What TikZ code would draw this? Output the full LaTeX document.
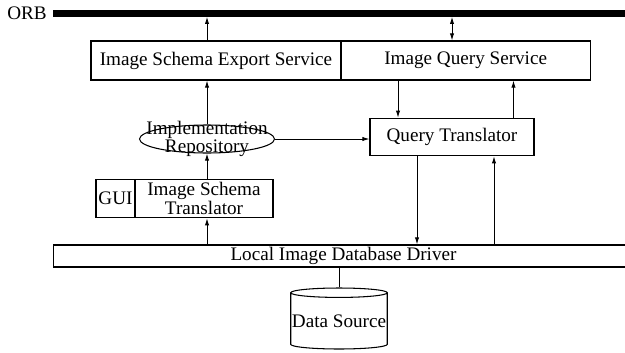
\documentclass[tikz,border=0pt]{standalone}
\usepackage{fontspec}
\setmainfont{Liberation Serif}
\usetikzlibrary{shapes.geometric,arrows.meta}

\begin{document}
\begin{tikzpicture}[x=0.02cm,y=-0.02cm,
		font=\fontsize{10.9}{12}\selectfont,
		box/.style={draw, line width=0.6pt, inner sep=0pt},
		arr/.style={-{Latex[length=4pt,width=2.4pt]}, line width=0.5pt},
		dblarr/.style={{Latex[length=4pt,width=2.4pt]}-{Latex[length=4pt,width=2.4pt]}, line width=0.5pt},
	]
	\useasboundingbox (0,0) rectangle (625,352);

	% bus
	\node[fill=black, inner sep=0pt, minimum width=11.54cm, minimum height=0.14cm] (orb) at (341.5,13) {};
	\node[anchor=east, inner sep=0pt] (orblabel) at (47,13) {ORB};

	% services
	\node[box, minimum width=5cm, minimum height=0.78cm] (export) at (216,60.5) {Image Schema Export Service};
	\node[box, minimum width=4.99cm, minimum height=0.78cm] (query) at (465.7,60.5) {Image Query Service};

	% middle row
	\node[box, ellipse, minimum width=2.7cm, minimum height=0.56cm,
		label={[align=center, inner sep=0pt, font=\fontsize{10.9}{6.6}\selectfont]center:Implementation\\Repository}] (repo) at (207,139) {};
	\node[box, minimum width=3.28cm, minimum height=0.75cm] (qt) at (452,137) {Query Translator};

	% translator with gui
	\node[box, minimum width=0.78cm, minimum height=0.77cm] (gui) at (115.5,198.5) {GUI};
	\node[box, minimum width=2.76cm, minimum height=0.77cm, align=center,
		font=\fontsize{10.9}{8.5}\selectfont] (ist) at (204,198.5) {Image Schema\\Translator};

	% driver and source
	\node[box, minimum width=11.62cm, minimum height=0.44cm] (lidd) at (343.5,256) {Local Image Database Driver};
	\node[box, cylinder, shape border rotate=90, aspect=0.1, minimum width=1.93cm, minimum height=1.22cm,
		anchor=shape center] (src) at (339,318.5) {Data Source};

	% helper points
	\coordinate (qin) at ([xshift=-1.08cm]qt.north);
	\coordinate (qout) at ([xshift=1.23cm]qt.north);
	\coordinate (ddown) at ([xshift=-0.7cm]qt.south);
	\coordinate (dup) at ([xshift=0.84cm]qt.south);

	% arrows
	\draw[arr] (repo.north |- export.north) -- (repo.north |- orb.south);
	\draw[dblarr] (qt.north |- query.north) -- (qt.north |- orb.south);
	\draw[arr] (repo.north) -- (repo.north |- export.south);
	\draw[arr] (repo.south |- ist.north) -- (repo.south);
	\draw[arr] (repo.south |- lidd.north) -- (repo.south |- ist.south);
	\draw[arr] (repo.east) -- (repo.east -| qt.west);
	\draw[arr] (qin |- query.south) -- (qin);
	\draw[arr] (qout) -- (qout |- query.south);
	\draw[arr] (ddown) -- (ddown |- lidd.north);
	\draw[arr] (dup |- lidd.north) -- (dup);
	\draw[line width=0.5pt] (src.north |- lidd.south) -- (src.north);
\end{tikzpicture}
\end{document}
